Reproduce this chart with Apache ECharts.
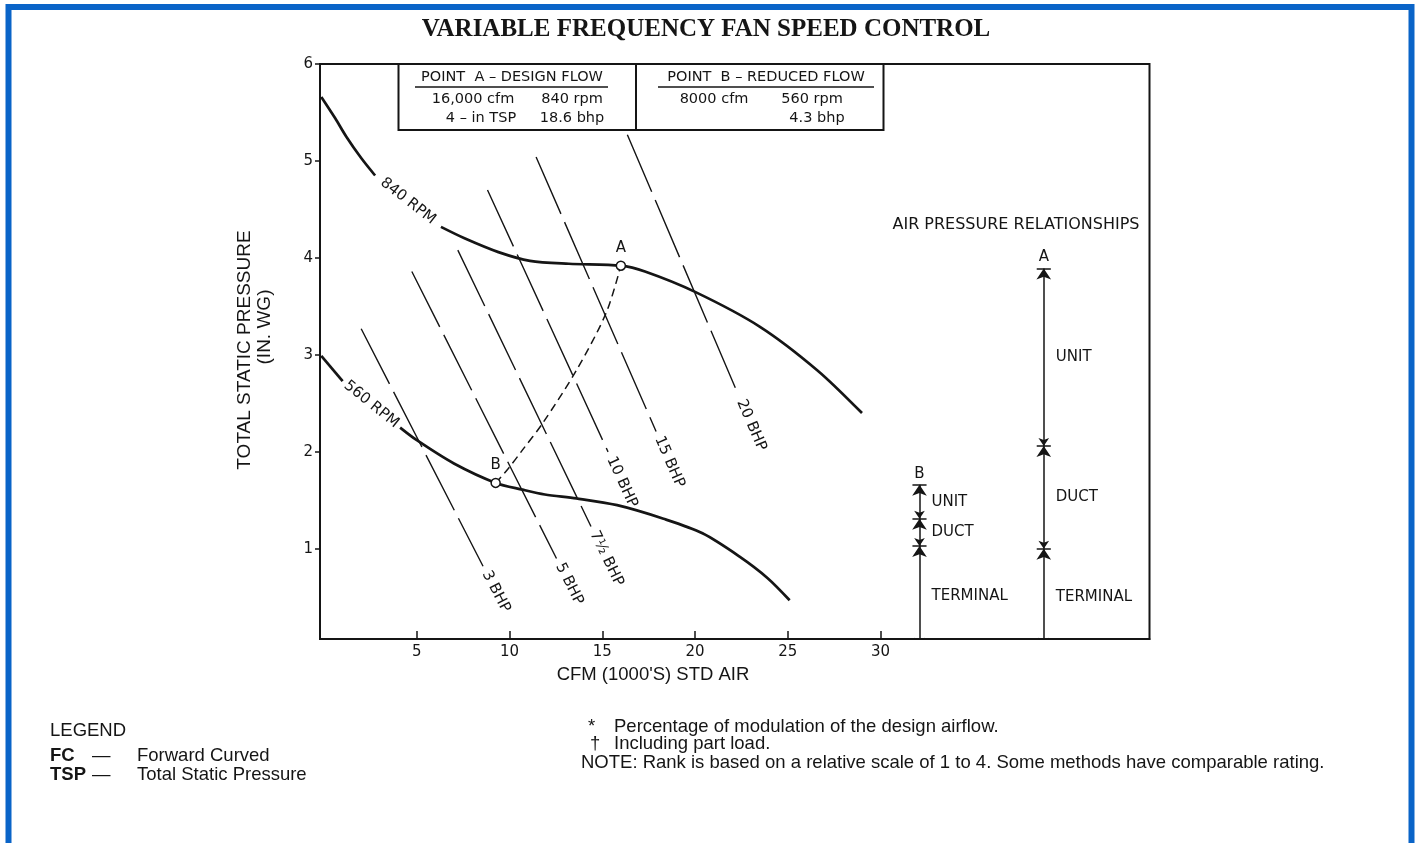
<!DOCTYPE html>
<html>
<head>
<meta charset="utf-8">
<title>Variable Frequency Fan Speed Control</title>
<script src="https://cdn.jsdelivr.net/npm/echarts@6.0.0/dist/echarts.min.js"></script>
<style>
html, body { margin: 0; padding: 0; background: #fff; }
#main { width: 1415px; height: 843px; }
</style>
</head>
<body>
<div id="main"></div>
<script>
// axis ticks
var xTicks = [5, 10, 15, 20, 25, 30];
var yTicks = [1, 2, 3, 4, 5, 6];

// fan curves (cfm in 1000's, TSP in in. wg), split where the rpm label sits
var rpm840Head = [[-0.15, 5.66], [0.6, 5.44], [1.2, 5.25], [2, 5.03], [2.75, 4.85]];
var rpm840Tail = [[6.3, 4.32], [7.6, 4.2], [9.4, 4.06], [11.1, 3.97], [13.2, 3.94], [16, 3.92], [17.3, 3.86], [20, 3.65], [23.5, 3.29], [26.6, 2.84], [29, 2.4]];
var rpm560Head = [[-0.15, 2.99], [1.0, 2.73]];
var rpm560Tail = [[4.1, 2.25], [5, 2.12], [7, 1.88], [9.25, 1.68], [10.7, 1.61], [11.9, 1.56], [13.6, 1.52], [15.8, 1.45], [18.3, 1.31], [20.4, 1.16], [22.4, 0.92], [23.9, 0.7], [25.1, 0.47]];

// system curve from B to A
var systemCurve = [[9.25, 1.68], [9.9, 1.82], [10.7, 2.02], [11.8, 2.3], [13.6, 2.84], [15.2, 3.43], [16, 3.92]];

// design points
var pointNames = ['A', 'B'];
var pointValues = [[16, 3.92], [9.25, 1.68]];

// constant brake horsepower lines
var bhpNames = ['3 BHP', '5 BHP', '7½ BHP', '10 BHP', '15 BHP', '20 BHP'];
var bhpLines = [
  [[2.0, 3.27], [8.57, 0.82]],
  [[4.73, 3.86], [12.53, 0.9]],
  [[7.21, 4.08], [14.39, 1.23]],
  [[8.81, 4.7], [15.31, 2.0]],
  [[11.43, 5.04], [17.9, 2.21]],
  [[16.35, 5.27], [22.33, 2.59]]
];

// air pressure relationships: bar levels (terminal | duct | unit)
var pressureParts = ['TERMINAL', 'DUCT', 'UNIT'];
var pressureA = [0, 1.0, 2.06, 3.89];
var pressureB = [0, 1.03, 1.31, 1.66];

// where the two pressure columns stand on the x scale
var columnX = { A: 38.8, B: 32.1 };

var INK = '#151515';
var LETTER = 'DejaVu Sans';
var ARIAL = 'Liberation Sans';

var chart = echarts.init(document.getElementById('main'));

function bhpSeries(line) {
  return {
    type: 'line', data: line, showSymbol: false, silent: true, z: 2,
    lineStyle: { color: INK, width: 1.4, type: [62, 9] }
  };
}
function curveSeries(d) {
  return {
    type: 'line', data: d, showSymbol: false, silent: true, smooth: 0.3, z: 3,
    lineStyle: { color: INK, width: 2.7 }
  };
}

var arrowData = [], barData = [];
[['A', pressureA], ['B', pressureB]].forEach(function (c) {
  var x = columnX[c[0]], lv = c[1];
  for (var i = 0; i < lv.length - 1; i++) {
    arrowData.push({ coords: [[x, lv[i]], [x, lv[i + 1]]] });
  }
  for (var j = 1; j < lv.length; j++) {
    barData.push({ coords: [[x - 0.38, lv[j]], [x + 0.38, lv[j]]] });
  }
});

var series = [];
bhpLines.forEach(function (l) { series.push(bhpSeries(l)); });
series.push(curveSeries(rpm840Head), curveSeries(rpm840Tail), curveSeries(rpm560Head), curveSeries(rpm560Tail));
series.push({
  type: 'line', data: systemCurve, showSymbol: false, silent: true, smooth: 0.3, z: 2,
  lineStyle: { color: INK, width: 1.5, type: [8, 5] }
});
series.push({
  type: 'scatter', silent: true, z: 5,
  data: pointValues.map(function (v, i) { return { name: pointNames[i], value: v }; }),
  symbol: 'circle', symbolSize: 9,
  itemStyle: { color: '#fff', borderColor: INK, borderWidth: 1.5, opacity: 1 },
  label: { show: true, formatter: '{b}', position: 'top', distance: 5, fontFamily: LETTER, fontSize: 15, color: INK }
});
series.push({
  type: 'lines', coordinateSystem: 'cartesian2d', silent: true, z: 4,
  data: arrowData, symbol: ['arrow', 'arrow'], symbolSize: [8, 11],
  lineStyle: { color: INK, width: 1.5, opacity: 1, curveness: 0 }
});
series.push({
  type: 'lines', coordinateSystem: 'cartesian2d', silent: true, z: 4,
  data: barData, symbol: 'none',
  lineStyle: { color: INK, width: 1.6, opacity: 1, curveness: 0 }
});

chart.setOption({
  animation: false,
  grid: { left: 320, top: 64, width: 829.5, height: 575, show: true, borderColor: INK, borderWidth: 2 },
  xAxis: {
    type: 'value', min: -0.22, max: 44.5,
    axisLine: { show: true, onZero: false, lineStyle: { color: INK, width: 2 } },
    axisTick: { show: true, inside: true, length: 8, customValues: xTicks, lineStyle: { color: INK, width: 1.5 } },
    axisLabel: { customValues: xTicks, margin: 6, fontFamily: LETTER, fontSize: 15, color: INK },
    splitLine: { show: false }
  },
  yAxis: {
    type: 'value', min: 0.07, max: 6,
    axisLine: { show: true, onZero: false, lineStyle: { color: INK, width: 2 } },
    axisTick: { show: true, inside: false, length: 5, customValues: yTicks, lineStyle: { color: INK, width: 1.5 } },
    axisLabel: { customValues: yTicks, margin: 7, fontFamily: LETTER, fontSize: 15, color: INK },
    splitLine: { show: false }
  },
  series: series
});

function px(p) { return chart.convertToPixel({ gridIndex: 0 }, p); }
function txt(s, x, y, font, align, vAlign, rot) {
  return {
    type: 'text', x: x, y: y, rotation: rot || 0, z: 10, silent: true,
    style: {
      text: s, x: 0, y: 0, font: font, fill: INK,
      align: align || 'center', textAlign: align || 'center',
      verticalAlign: vAlign || 'middle', textVerticalAlign: vAlign || 'middle'
    }
  };
}
function seg(x1, y1, x2, y2, w) {
  return { type: 'line', silent: true, z: 10, shape: { x1: x1, y1: y1, x2: x2, y2: y2 }, style: { stroke: INK, lineWidth: w || 2 } };
}

var g = [];
// blue frame
g.push({ type: 'rect', silent: true, z: 20, shape: { x: 8.5, y: 7, width: 1403, height: 900 }, style: { fill: 'none', stroke: '#0A64C8', lineWidth: 6 } });
// title
g.push(txt('VARIABLE FREQUENCY FAN SPEED CONTROL', 706, 30, 'bold 25px "Liberation Serif"'));
// axis titles
g.push(txt('TOTAL STATIC PRESSURE', 245, 350, '19px "' + ARIAL + '"', 'center', 'middle', Math.PI / 2));
g.push(txt('(IN. WG)', 265, 327, '19px "' + ARIAL + '"', 'center', 'middle', Math.PI / 2));
g.push(txt("CFM (1000'S) STD AIR", 653, 675, '18.5px "' + ARIAL + '"'));

// rpm labels sitting in the gaps of the fan curves
[[rpm840Head, rpm840Tail, '840 RPM'], [rpm560Head, rpm560Tail, '560 RPM']].forEach(function (c) {
  var a = px(c[0][c[0].length - 1]), b = px(c[1][0]);
  var ang = Math.atan2(b[1] - a[1], b[0] - a[0]);
  g.push(txt(c[2], (a[0] + b[0]) / 2, (a[1] + b[1]) / 2, '15px "' + LETTER + '"', 'center', 'middle', -ang));
});

// bhp labels continuing past the lower end of each line
bhpLines.forEach(function (l, i) {
  var a = px(l[0]), b = px(l[1]);
  var dx = b[0] - a[0], dy = b[1] - a[1], len = Math.sqrt(dx * dx + dy * dy);
  var gap = 6;
  g.push(txt(bhpNames[i], b[0] + dx / len * gap, b[1] + dy / len * gap, '15px "' + LETTER + '"', 'left', 'middle', -Math.atan2(dy, dx)));
});

// pressure relationship labels
g.push(txt('AIR PRESSURE RELATIONSHIPS', 1016, 225, '16px "' + LETTER + '"'));
[['A', pressureA], ['B', pressureB]].forEach(function (c) {
  var x = columnX[c[0]], lv = c[1];
  var top = px([x, lv[lv.length - 1]]);
  g.push(txt(c[0], top[0], top[1] - 11, '15px "' + LETTER + '"'));
  for (var i = 0; i < lv.length - 1; i++) {
    var p = px([x, (lv[i] + lv[i + 1]) / 2]);
    g.push(txt(pressureParts[i], p[0] + 12, p[1], '15px "' + LETTER + '"', 'left', 'middle'));
  }
});

// operating point table
g.push({ type: 'rect', silent: true, z: 10, shape: { x: 398.5, y: 64, width: 485, height: 66 }, style: { fill: '#fff', stroke: INK, lineWidth: 2 } });
g.push(seg(636, 64, 636, 130, 2));
g.push(seg(415, 87, 608, 87, 1.5));
g.push(seg(658, 87, 874, 87, 1.5));
var TH = '14.5px "' + LETTER + '"', TB = '14.5px "' + LETTER + '"';
g.push(txt('POINT  A – DESIGN FLOW', 512, 77, TH));
g.push(txt('POINT  B – REDUCED FLOW', 766, 77, TH));
g.push(txt('16,000 cfm', 473, 99, TB));
g.push(txt('840 rpm', 572, 99, TB));
g.push(txt('4 – in TSP', 481, 118, TB));
g.push(txt('18.6 bhp', 572, 118, TB));
g.push(txt('8000 cfm', 714, 99, TB));
g.push(txt('560 rpm', 812, 99, TB));
g.push(txt('4.3 bhp', 817, 118, TB));

// footer
var F = '18.5px "' + ARIAL + '"', FB = 'bold 18.5px "' + ARIAL + '"';
g.push(txt('LEGEND', 50, 731, F, 'left'));
g.push(txt('FC', 50, 756, FB, 'left'));
g.push(txt('—', 92, 756, F, 'left'));
g.push(txt('Forward Curved', 137, 756, F, 'left'));
g.push(txt('TSP', 50, 775, FB, 'left'));
g.push(txt('—', 92, 775, F, 'left'));
g.push(txt('Total Static Pressure', 137, 775, F, 'left'));
g.push(txt('*', 588, 727, F, 'left'));
g.push(txt('Percentage of modulation of the design airflow.', 614, 727, F, 'left'));
g.push(txt('†', 590, 744, F, 'left'));
g.push(txt('Including part load.', 614, 744, F, 'left'));
g.push(txt('NOTE: Rank is based on a relative scale of 1 to 4. Some methods have comparable rating.', 581, 763, F, 'left'));

chart.setOption({ graphic: g });
</script>
</body>
</html>
